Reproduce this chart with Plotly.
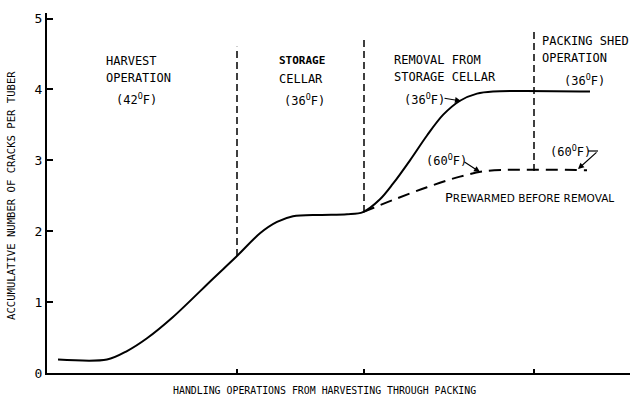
import plotly.graph_objects as go

# ---------------- data ----------------
# x: progress through handling operations (arbitrary units, 0..583)
main_x = [11, 60, 80, 100, 126, 166, 190, 213, 230, 246, 273, 300, 316,
          333, 346, 363, 380, 396, 413, 430, 446, 543]
main_y = [0.19, 0.19, 0.31, 0.49, 0.79, 1.33, 1.65, 1.97, 2.13, 2.21, 2.23, 2.24, 2.27,
          2.45, 2.67, 3.00, 3.35, 3.64, 3.84, 3.94, 3.97, 3.97]

prewarm_x = [316, 346, 380, 413, 440, 540]
prewarm_y = [2.27, 2.44, 2.62, 2.77, 2.85, 2.86]

divider_x = [190, 317, 487]
divider_bottom = [1.65, 2.27, 2.85]
divider_top = [4.60, 4.70, 4.81]

y_ticks = [0, 1, 2, 3, 4, 5]
y_ticklabels = ["0", "1", "2", "3", "4", "5"]

MONO = "DejaVu Sans Mono, Liberation Mono, monospace"
SANS = "DejaVu Sans, Liberation Sans, sans-serif"

# ---------------- figure ----------------
fig = go.Figure()

fig.add_trace(go.Scatter(x=main_x, y=main_y, mode="lines",
                         line=dict(color="black", width=2, shape="spline", smoothing=0.9),
                         hoverinfo="skip", showlegend=False))
fig.add_trace(go.Scatter(x=prewarm_x, y=prewarm_y, mode="lines",
                         line=dict(color="black", width=2, shape="spline", smoothing=0.9,
                                   dash="12px,7px"),
                         hoverinfo="skip", showlegend=False))
for dx, yb, yt in zip(divider_x, divider_bottom, divider_top):
    fig.add_trace(go.Scatter(x=[dx, dx], y=[yb, yt], mode="lines",
                             line=dict(color="black", width=1.5, dash="7px,4px"),
                             hoverinfo="skip", showlegend=False))

# plot area in pixels
L, R, T, B = 47, 630, 13, 373


def px(xp):
    return (xp - L) / (R - L)


def py(yp):
    return (B - yp) / (B - T)


DEG = "<sup>O</sup>"
labels = [
    (104, 61, "HARVEST", 12, MONO),
    (104, 78, "OPERATION", 12, MONO),
    (114, 99, f"(42{DEG}F)", 12, MONO),
    (277, 61, "<b>STORAGE</b>", 11, MONO),
    (277, 79, "CELLAR", 12, MONO),
    (282, 100, f"(36{DEG}F)", 12, MONO),
    (392, 60, "REMOVAL FROM", 12, MONO),
    (392, 77, "STORAGE CELLAR", 12, MONO),
    (402, 99, f"(36{DEG}F)", 12, MONO),
    (540, 41, "PACKING SHED", 12, MONO),
    (540, 58, "OPERATION", 12, MONO),
    (562, 80, f"(36{DEG}F)", 12, MONO),
    (424, 160, f"(60{DEG}F)", 12, MONO),
    (548, 151, f"(60{DEG}F)", 12, MONO),
    (443, 198, "P<span style='font-size:10.5px'>REWARMED BEFORE REMOVAL</span>", 13, SANS),
]
annotations = []
for xp, yp, txt, sz, fam in labels:
    annotations.append(dict(xref="paper", yref="paper", x=px(xp), y=py(yp),
                            xanchor="left", yanchor="middle", text=txt, showarrow=False,
                            font=dict(family=fam, size=sz, color="black")))

# arrows: (head_x, head_y, tail_x, tail_y) in pixels
arrows = [(461, 101, 443, 98), (480, 172, 463, 161), (578, 169, 598, 151)]
for hx, hy, tx, ty in arrows:
    annotations.append(dict(xref="paper", yref="paper", x=px(hx), y=py(hy),
                            ax=tx - hx, ay=ty - hy, text="", showarrow=True,
                            arrowhead=2, arrowsize=1, arrowwidth=1.2, arrowcolor="black"))

# axis titles
annotations.append(dict(xref="paper", yref="paper", x=px(11), y=py(196), text=
                        "ACCUMULATIVE NUMBER OF CRACKS PER TUBER", textangle=-90,
                        showarrow=False, xanchor="center", yanchor="middle",
                        font=dict(family=MONO, size=10.6, color="black")))
annotations.append(dict(xref="paper", yref="paper", x=px(324), y=py(390), text=
                        "HANDLING OPERATIONS FROM HARVESTING THROUGH PACKING",
                        showarrow=False, xanchor="center", yanchor="middle",
                        font=dict(family=MONO, size=9.9, color="black")))

shapes = [dict(type="line", xref="paper", yref="paper", x0=px(588), y0=py(151),
               x1=px(598), y1=py(151), line=dict(color="black", width=1.2))]

fig.update_layout(
    width=635, height=404,
    margin=dict(l=L, r=635 - R, t=T, b=404 - B),
    plot_bgcolor="white", paper_bgcolor="white",
    showlegend=False,
    annotations=annotations,
    shapes=shapes,
    xaxis=dict(range=[0, R - L], showgrid=False, zeroline=False,
               showline=True, linecolor="black", linewidth=2,
               tickmode="array", tickvals=divider_x, ticks="inside", ticklen=4,
               tickwidth=1.5, tickcolor="black", showticklabels=False, fixedrange=True),
    yaxis=dict(range=[0, (B - T) / 70.9], showgrid=False, zeroline=False,
               showline=True, linecolor="black", linewidth=2,
               tickmode="array", tickvals=y_ticks, ticktext=y_ticklabels,
               ticks="inside", ticklen=6, tickwidth=1.5, tickcolor="black",
               tickfont=dict(family=MONO, size=13, color="black"), fixedrange=True),
)

fig.write_html("out.html", config={"displayModeBar": False},
               post_script="document.body.style.margin='0';")
